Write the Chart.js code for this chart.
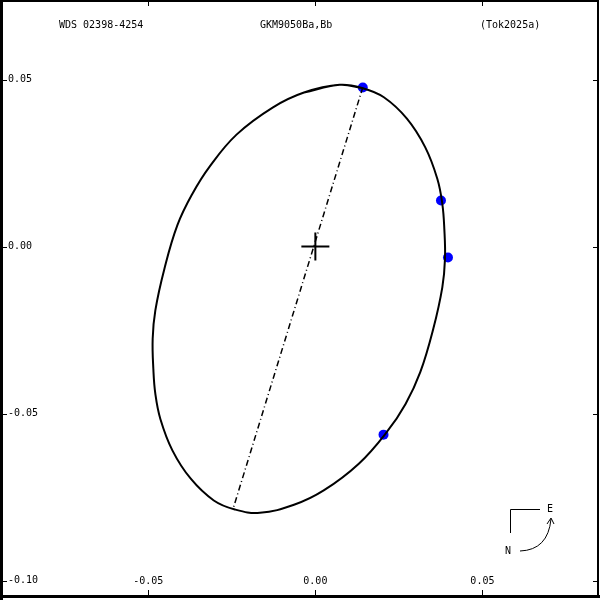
<!DOCTYPE html>
<html>
<head>
<meta charset="utf-8">
<script src="https://cdn.jsdelivr.net/npm/chart.js@4.4.1/dist/chart.umd.min.js"></script>
<style>
  html, body { margin: 0; padding: 0; background: #fff; }
  #chart { display: block; }
</style>
</head>
<body>
<canvas id="chart" width="600" height="600"></canvas>
<script>
// orbit (arcsec), clockwise from the top
const orbitX = [0.0073, 0.0142, 0.0205, 0.0274, 0.0329, 0.0365, 0.0380, 0.0386, 0.0388, 0.0380,
  0.0353, 0.0314, 0.0270, 0.0214, 0.0130, 0.0025, -0.0064, -0.0166,
  -0.0241, -0.0304, -0.0373, -0.0428, -0.0464, -0.0479, -0.0485, -0.0487, -0.0479, -0.0452,
  -0.0413, -0.0368, -0.0316, -0.0236, -0.0128, -0.0034, 0.0073];
const orbitY = [0.0484, 0.0474, 0.0447, 0.0383, 0.0297, 0.0203, 0.0128, 0.0053, -0.0037, -0.0122,
  -0.0246, -0.0376, -0.0471, -0.0555, -0.0650, -0.0730, -0.0773, -0.0797,
  -0.0787, -0.0760, -0.0695, -0.0610, -0.0516, -0.0441, -0.0366, -0.0276, -0.0191, -0.0067,
  0.0064, 0.0158, 0.0240, 0.0335, 0.0416, 0.0461, 0.0484];

// line of apsides
const apsidesX = [0.0142, -0.0246];
const apsidesY = [0.0477, -0.0784];

// measurements
const obsX = [0.0142, 0.0376, 0.0397, 0.0204];
const obsY = [0.0476, 0.0138, -0.0033, -0.0563];

const xTicks = [-0.05, 0.00, 0.05];
const yTicks = [0.05, 0.00, -0.05, -0.10];
const xTickLabels = ["-0.05", "0.00", "0.05"];
const yTickLabels = ["0.05", "0.00", "-0.05", "-0.10"];

const titleLeft = "WDS 02398-4254";
const titleMid = "GKM9050Ba,Bb";
const titleRight = "(Tok2025a)";

const FONT = "10px 'DejaVu Sans Mono', monospace";

function pts(xs, ys) {
  return xs.map((x, i) => ({ x: x, y: ys[i] }));
}

// closed loop: overlap one point at each end so the join is smooth too
function loopPts(xs, ys) {
  const p = pts(xs, ys);
  const n = p.length;
  return [p[n - 2]].concat(p, [p[1]]);
}

const framePlugin = {
  id: "frame",
  afterDraw(chart) {
    const ctx = chart.ctx;
    const sx = chart.scales.x;
    const sy = chart.scales.y;
    ctx.save();
    ctx.strokeStyle = "#000";
    ctx.fillStyle = "#000";

    // border
    ctx.lineWidth = 2;
    ctx.strokeRect(1, 1, 597, 596);
    ctx.fillRect(0, 0, 3, 600);
    ctx.fillRect(0, 595, 600, 3);

    // ticks
    ctx.lineWidth = 1;
    xTicks.forEach(v => {
      const px = Math.round(sx.getPixelForValue(v)) + 0.5;
      ctx.beginPath();
      ctx.moveTo(px, 1); ctx.lineTo(px, 6);
      ctx.moveTo(px, 595); ctx.lineTo(px, 590);
      ctx.stroke();
    });
    yTicks.forEach(v => {
      const py = Math.round(sy.getPixelForValue(v)) + 0.5;
      ctx.beginPath();
      ctx.moveTo(3, py); ctx.lineTo(7, py);
      ctx.moveTo(598, py); ctx.lineTo(593, py);
      ctx.stroke();
    });

    // tick labels
    ctx.font = FONT;
    ctx.textBaseline = "middle";
    ctx.textAlign = "left";
    yTicks.forEach((v, i) => {
      ctx.fillText(yTickLabels[i], 8, sy.getPixelForValue(v));
    });
    ctx.textAlign = "center";
    xTicks.forEach((v, i) => {
      ctx.fillText(xTickLabels[i], sx.getPixelForValue(v), 581);
    });

    // titles
    ctx.textAlign = "left";
    ctx.fillText(titleLeft, 59, 25);
    ctx.fillText(titleMid, 260, 25);
    ctx.fillText(titleRight, 480, 25);

    // compass
    ctx.beginPath();
    ctx.moveTo(540, 509.5); ctx.lineTo(510.5, 509.5); ctx.lineTo(510.5, 533);
    ctx.stroke();
    ctx.textAlign = "center";
    ctx.fillText("E", 550, 509);
    ctx.fillText("N", 508, 551);
    ctx.beginPath();
    ctx.moveTo(520, 551);
    ctx.quadraticCurveTo(548, 550, 551, 519);
    ctx.stroke();
    ctx.beginPath();
    ctx.moveTo(547, 524); ctx.lineTo(551, 518); ctx.lineTo(554, 524);
    ctx.stroke();
    ctx.restore();
  }
};

new Chart(document.getElementById("chart"), {
  type: "scatter",
  data: {
    datasets: [
      {
        data: loopPts(orbitX, orbitY),
        showLine: true,
        borderColor: "#000",
        borderWidth: 2,
        tension: 0.4,
        pointRadius: 0
      },
      {
        data: pts(apsidesX, apsidesY),
        showLine: true,
        borderColor: "#000",
        borderWidth: 1.5,
        borderDash: [6, 3, 1, 3],
        pointRadius: 0
      },
      {
        data: [{ x: 0, y: 0 }],
        pointStyle: "cross",
        pointRadius: 14,
        borderColor: "#000",
        borderWidth: 2
      },
      {
        data: pts(obsX, obsY),
        pointRadius: 5,
        backgroundColor: "#0000ff",
        borderColor: "#0000ff",
        borderWidth: 0
      }
    ]
  },
  options: {
    responsive: false,
    animation: false,
    devicePixelRatio: 1,
    layout: { padding: 0, autoPadding: false },
    plugins: { legend: { display: false }, tooltip: { enabled: false } },
    scales: {
      x: { type: "linear", display: false, min: -0.0944, max: 0.0852 },
      y: { type: "linear", display: false, min: -0.1058, max: 0.0738 }
    }
  },
  plugins: [framePlugin]
});
</script>
</body>
</html>
